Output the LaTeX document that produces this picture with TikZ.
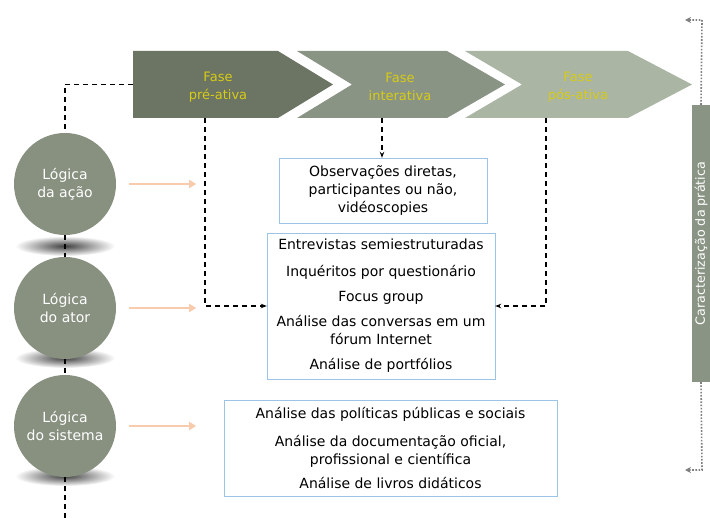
\documentclass[tikz,border=0pt]{standalone}
\usepackage{fontspec}
\setmainfont{DejaVu Sans}
\usetikzlibrary{positioning}
\usetikzlibrary{arrows.meta}
\definecolor{faseum}{RGB}{108,116,100}
\definecolor{fasedois}{RGB}{138,148,132}
\definecolor{fasetres}{RGB}{170,181,163}
\definecolor{faseamarelo}{RGB}{215,204,20}
\definecolor{logicacinza}{RGB}{136,145,128}
\definecolor{caixaazul}{RGB}{157,195,230}
\definecolor{setalaranja}{RGB}{248,203,173}
\definecolor{pontocinza}{RGB}{127,127,127}

\begin{document}
\begin{tikzpicture}[x=1pt,y=-1pt,
fase/.style={inner sep=0pt,text=faseamarelo,align=center,font=\fontsize{13}{18}\selectfont},
logica/.style={circle,fill=logicacinza,minimum size=102pt,inner sep=0pt,text=white,align=center,font=\fontsize{14}{18}\selectfont},
caixa/.style={draw=caixaazul,fill=white,inner sep=0pt,align=center,font=\fontsize{14}{18}\selectfont},
ligacao/.style={black,line width=1.3pt,dash pattern=on 5pt off 4pt},
seta/.style={setalaranja,line width=2pt,-{Triangle[length=7pt,width=8pt]}},
pontilhado/.style={pontocinza,line width=1.6pt,dash pattern=on 1.6pt off 1.6pt,-{Stealth[length=6pt,width=6pt]}}]
\useasboundingbox (0,0) rectangle (710,518);

\fill[faseum] (133,51) -- (278,51) -- (333,84.5) -- (278,118) -- (133,118) -- cycle;
\fill[fasedois] (297,51) -- (447,51) -- (505,84.5) -- (447,118) -- (297,118) -- (352,84.5) -- cycle;
\fill[fasetres] (465,51) -- (628,51) -- (692,84.5) -- (628,118) -- (465,118) -- (522,84.5) -- cycle;
\node[fase] (pre) at (218,87) {Fase\\pré-ativa};
\node[fase] (inter) at (400,87) {Fase\\interativa\vphantom{é}};
\node[fase] (pos) at (578,87) {Fase\\pós-ativa};
\coordinate (preesq) at (133,84.5);
\coordinate (prebase) at (205,118);
\coordinate (interbase) at (382,118);
\coordinate (posbase) at (546,118);

\shade[inner color=black!75,outer color=white] (65,246) ellipse (50 and 10);
\shade[inner color=black!75,outer color=white] (65,358) ellipse (50 and 10);
\shade[inner color=black!75,outer color=white] (65,476) ellipse (50 and 10);
\node[logica] (acao) at (65,184) {Lógica\\da ação};
\node[logica] (ator) at (65,308) {Lógica\\do ator};
\node[logica] (sistema) at (65,426) {Lógica\\do sistema};
\coordinate (fim) at (65,518);

\node[caixa,minimum width=208pt,minimum height=65pt] (obs) at (383,190.5) {Observações diretas,\\participantes ou não,\\vidéoscopies};
\node[caixa,minimum width=228pt,minimum height=146pt] (entrevistas) at (381,306) {Entrevistas semiestruturadas\\[9pt]Inquéritos por questionário\\[7pt]Focus group\\[7pt]Análise das conversas em um\\fórum Internet\\[7pt]Análise de portfólios};
\node[caixa,minimum width=333pt,minimum height=96pt] (politicas) at (390.5,448) {Análise das políticas públicas e sociais\\[10pt]Análise da documentação oficial,\\profissional e científica\\[6pt]Análise de livros didáticos};

\node[rectangle,fill=fasedois,rotate=90,minimum width=277pt,minimum height=18pt,inner sep=0pt,text=white,font=\fontsize{12.7}{14}\selectfont] (pratica) at (701,243.5) {Caracterização da prática};
\coordinate (topo) at (702,20);
\coordinate (base) at (702,470);

\draw[ligacao] (preesq) -| (acao.north);
\draw[ligacao] (acao.south) -- (ator.north);
\draw[ligacao] (ator.south) -- (sistema.north);
\draw[ligacao] (sistema.south) -- (fim);
\draw[ligacao,-{Stealth[length=6pt]}] (prebase) |- (entrevistas.west);
\draw[ligacao,-{Stealth[length=6pt]}] (interbase) -- (obs.north -| interbase);
\draw[ligacao,-{Stealth[length=6pt]}] (posbase) |- (entrevistas.east);

\draw[seta] ([xshift=13pt]acao.east) -- ++(67,0);
\draw[seta] ([xshift=13pt]ator.east) -- ++(67,0);
\draw[seta] ([xshift=13pt]sistema.east) -- ++(67,0);

\draw[pontilhado] (pratica.east) -- (topo) -- ++(-17,0);
\draw[pontilhado] (pratica.west) -- (base) -- ++(-17,0);
\end{tikzpicture}
\end{document}
